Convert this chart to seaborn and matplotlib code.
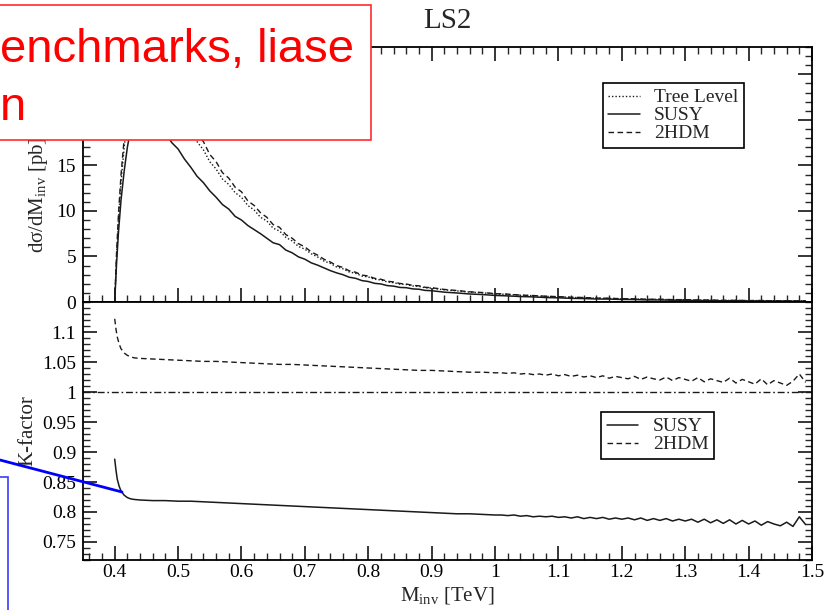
import seaborn as sns
import matplotlib
matplotlib.use("Agg")
import matplotlib.pyplot as plt
from matplotlib.patches import Rectangle
from matplotlib.lines import Line2D
from matplotlib.ticker import FixedLocator, MultipleLocator, FuncFormatter

# ---------------- data ----------------
# invariant mass grid for the differential cross section [TeV]
m_xsec = [0.400, 0.403, 0.406, 0.410, 0.415, 0.420, 0.425, 0.430,
          0.44, 0.45, 0.46, 0.47, 0.48, 0.49, 0.50, 0.51, 0.52, 0.53,
          0.54, 0.55, 0.56, 0.57, 0.58, 0.59, 0.60, 0.61, 0.62, 0.63,
          0.64, 0.65, 0.66, 0.67, 0.68, 0.69, 0.70, 0.71, 0.72, 0.73,
          0.74, 0.75, 0.76, 0.77, 0.78, 0.79, 0.80, 0.81, 0.82, 0.83,
          0.84, 0.85, 0.86, 0.87, 0.88, 0.89, 0.90,
          0.92, 0.94, 0.96, 0.98, 1.00, 1.02, 1.04, 1.06, 1.08, 1.10,
          1.12, 1.14, 1.16, 1.18, 1.20, 1.22, 1.24, 1.26, 1.28, 1.30,
          1.32, 1.34, 1.36, 1.38, 1.40, 1.42, 1.44, 1.46, 1.48, 1.49]

xsec_tree = [0.0, 5.0, 9.0, 13.2, 17.0, 20.1, 22.4, 24.0,
             25.6, 26.1, 25.7, 25.1, 23.9, 22.7, 21.3, 20.1, 18.9, 17.6,
             16.7, 15.4, 14.6, 13.5, 12.9, 12.0, 11.5, 10.6, 10.1, 9.3,
             8.9, 8.1, 7.8, 7.1, 6.7, 6.1, 5.8, 5.3, 4.95, 4.5,
             4.25, 3.85, 3.65, 3.3, 3.15, 2.85, 2.75, 2.5, 2.42, 2.2,
             2.12, 1.96, 1.92, 1.76, 1.72, 1.56, 1.52,
             1.33, 1.22, 1.08, 1.01, 0.89, 0.83, 0.74, 0.69, 0.61, 0.57,
             0.5, 0.48, 0.42, 0.4, 0.35, 0.34, 0.29, 0.29, 0.25, 0.25,
             0.21, 0.21, 0.17, 0.18, 0.15, 0.16, 0.13, 0.14, 0.11, 0.12]

xsec_susy = [0.0, 4.3, 7.7, 11.2, 14.4, 17.0, 18.9, 20.1,
             21.2, 21.4, 21.0, 20.2, 18.6, 17.5, 16.8, 15.7, 14.8, 13.8,
             13.1, 12.2, 11.5, 10.7, 10.2, 9.4, 9.0, 8.4, 7.95, 7.5,
             7.0, 6.5, 6.3, 5.7, 5.4, 4.95, 4.7, 4.3, 4.05, 3.75,
             3.45, 3.2, 3.0, 2.72, 2.6, 2.35, 2.25, 2.05, 1.98, 1.8,
             1.74, 1.6, 1.57, 1.44, 1.4, 1.27, 1.24,
             1.08, 0.99, 0.88, 0.82, 0.72, 0.67, 0.6, 0.56, 0.49, 0.46,
             0.4, 0.38, 0.33, 0.32, 0.28, 0.27, 0.23, 0.23, 0.2, 0.19,
             0.16, 0.16, 0.13, 0.14, 0.12, 0.12, 0.1, 0.11, 0.08, 0.09]

xsec_2hdm = [0.0, 5.5, 9.7, 14.0, 18.0, 21.3, 23.7, 25.4,
             27.0, 27.5, 27.1, 26.4, 25.3, 23.9, 22.5, 21.1, 20.0, 18.5,
             17.6, 16.2, 15.4, 14.2, 13.6, 12.6, 12.1, 11.1, 10.6, 9.8,
             9.3, 8.5, 8.2, 7.4, 7.0, 6.4, 6.05, 5.5, 5.15, 4.7,
             4.4, 4.0, 3.8, 3.42, 3.27, 2.96, 2.85, 2.6, 2.5, 2.28,
             2.2, 2.03, 1.98, 1.82, 1.78, 1.61, 1.57,
             1.38, 1.26, 1.12, 1.04, 0.92, 0.86, 0.76, 0.71, 0.63, 0.59,
             0.52, 0.49, 0.43, 0.41, 0.36, 0.35, 0.3, 0.3, 0.26, 0.26,
             0.22, 0.21, 0.18, 0.18, 0.16, 0.16, 0.13, 0.14, 0.12, 0.12]

# invariant mass grid for the K-factors [TeV]
m_kfac = [0.400, 0.402, 0.404, 0.407, 0.410, 0.415, 0.420, 0.425, 0.430,
          0.44, 0.46, 0.48, 0.50, 0.52, 0.54, 0.56, 0.58, 0.60, 0.62,
          0.64, 0.66, 0.68, 0.70, 0.72, 0.74, 0.76, 0.78, 0.80, 0.82,
          0.84, 0.86, 0.88, 0.90, 0.92, 0.94, 0.96, 0.98, 1.00,
          1.01, 1.02, 1.03, 1.04, 1.05, 1.06, 1.07, 1.08, 1.09, 1.10,
          1.11, 1.12, 1.13, 1.14, 1.15, 1.16, 1.17, 1.18, 1.19, 1.20,
          1.21, 1.22, 1.23, 1.24, 1.25, 1.26, 1.27, 1.28, 1.29, 1.30,
          1.31, 1.32, 1.33, 1.34, 1.35, 1.36, 1.37, 1.38, 1.39, 1.40,
          1.41, 1.42, 1.43, 1.44, 1.45, 1.46, 1.47, 1.48, 1.49]

kfac_susy = [0.888, 0.870, 0.855, 0.843, 0.835, 0.828, 0.824, 0.822, 0.821,
             0.820, 0.819, 0.819, 0.818, 0.818, 0.817, 0.816, 0.815, 0.814, 0.813,
             0.812, 0.811, 0.810, 0.809, 0.808, 0.807, 0.806, 0.805, 0.804, 0.803,
             0.802, 0.801, 0.800, 0.799, 0.798, 0.797, 0.797, 0.796, 0.795,
             0.795, 0.794, 0.795, 0.793, 0.794, 0.792, 0.793, 0.792, 0.793, 0.791,
             0.792, 0.790, 0.792, 0.789, 0.791, 0.789, 0.791, 0.788, 0.790, 0.788,
             0.790, 0.787, 0.790, 0.786, 0.789, 0.786, 0.789, 0.785, 0.788, 0.785,
             0.788, 0.783, 0.788, 0.782, 0.787, 0.781, 0.787, 0.780, 0.786, 0.780,
             0.785, 0.778, 0.784, 0.780, 0.777, 0.783, 0.776, 0.792, 0.779]

kfac_2hdm = [1.122, 1.105, 1.092, 1.080, 1.072, 1.065, 1.061, 1.059, 1.057,
             1.056, 1.055, 1.054, 1.053, 1.052, 1.051, 1.051, 1.050, 1.049, 1.048,
             1.047, 1.046, 1.046, 1.045, 1.044, 1.043, 1.042, 1.041, 1.040, 1.039,
             1.038, 1.037, 1.036, 1.036, 1.035, 1.034, 1.033, 1.033, 1.032,
             1.032, 1.031, 1.032, 1.030, 1.031, 1.029, 1.030, 1.028, 1.030, 1.027,
             1.029, 1.026, 1.028, 1.025, 1.027, 1.024, 1.027, 1.023, 1.026, 1.024,
             1.022, 1.026, 1.021, 1.025, 1.022, 1.020, 1.025, 1.019, 1.024, 1.021,
             1.018, 1.024, 1.017, 1.022, 1.019, 1.016, 1.023, 1.015, 1.021, 1.017,
             1.013, 1.022, 1.012, 1.019, 1.015, 1.011, 1.018, 1.030, 1.016]

kfac_tree = 1.0

x_ticks = [0.4, 0.5, 0.6, 0.7, 0.8, 0.9, 1.0, 1.1, 1.2, 1.3, 1.4, 1.5]
xsec_ticks = [0, 5, 10, 15, 20, 25]
xsec_labels = ["0", "5", "10", "15", "", ""]   # upper two sit under the note box
kfac_ticks = [0.75, 0.8, 0.85, 0.9, 0.95, 1.0, 1.05, 1.1]

# ---------------- style ----------------
sns.set_theme(style="ticks")
plt.rcParams["font.family"] = ["Liberation Serif", "DejaVu Serif"]
plt.rcParams["mathtext.fontset"] = "custom"
plt.rcParams["mathtext.rm"] = "Liberation Serif"
plt.rcParams["mathtext.it"] = "Liberation Serif:italic"
plt.rcParams["axes.linewidth"] = 1.2

INK = "#1a1a1a"
fmt = FuncFormatter(lambda v, p: f"{v:g}")

fig = plt.figure(figsize=(8.4, 6.1), dpi=100)
ax_top = fig.add_axes([83 / 840, 1 - 302 / 610, 729 / 840, 255 / 610])
ax_bot = fig.add_axes([83 / 840, 1 - 560 / 610, 729 / 840, 258 / 610])

# ---- differential cross section ----
sns.lineplot(x=m_xsec, y=xsec_tree, ax=ax_top, color=INK, lw=1.0,
             linestyle=(0, (1, 1.5)), label="Tree Level",
             estimator=None, sort=False)
sns.lineplot(x=m_xsec, y=xsec_susy, ax=ax_top, color=INK, lw=1.1,
             linestyle="-", label="SUSY", estimator=None, sort=False)
sns.lineplot(x=m_xsec, y=xsec_2hdm, ax=ax_top, color=INK, lw=1.0,
             linestyle=(0, (4, 2.5)), label="2HDM", estimator=None, sort=False)

# ---- K-factors ----
ax_bot.axhline(kfac_tree, color=INK, lw=1.0, linestyle=(0, (5, 2, 1.2, 2)))
sns.lineplot(x=m_kfac, y=kfac_susy, ax=ax_bot, color=INK, lw=1.1,
             linestyle="-", label="SUSY", estimator=None, sort=False)
sns.lineplot(x=m_kfac, y=kfac_2hdm, ax=ax_bot, color=INK, lw=1.0,
             linestyle=(0, (4, 2.5)), label="2HDM", estimator=None, sort=False)

for ax in (ax_top, ax_bot):
    ax.set_xlim(0.35, 1.5)
    ax.xaxis.set_major_locator(FixedLocator(x_ticks))
    ax.xaxis.set_minor_locator(MultipleLocator(0.02))
    ax.xaxis.set_major_formatter(fmt)
    ax.tick_params(which="major", direction="in", length=10, width=1.1,
                   labelsize=14, colors="black", pad=5)
    ax.tick_params(which="minor", direction="in", length=5, width=1.0)
    for s in ax.spines.values():
        s.set_linewidth(1.3)
        s.set_color("black")

ax_top.set_ylim(0, 28)
ax_top.set_yticks(xsec_ticks, xsec_labels)
ax_top.yaxis.set_minor_locator(MultipleLocator(1))
ax_top.tick_params(which="both", top=True, right=True, bottom=True,
                   labelbottom=False)

ax_bot.set_ylim(0.72, 1.15)
ax_bot.yaxis.set_major_locator(FixedLocator(kfac_ticks))
ax_bot.yaxis.set_minor_locator(MultipleLocator(0.01))
ax_bot.yaxis.set_major_formatter(fmt)
ax_bot.tick_params(which="both", top=False, right=True, bottom=True)
ax_bot.tick_params(axis="x", which="major", pad=3)

ax_top.set_ylabel("dσ/dM$_{\\mathrm{inv}}$ [pb]", fontsize=15)
ax_top.yaxis.set_label_coords(-0.045, 0.42)
ax_bot.set_ylabel("K-factor", fontsize=15)
ax_bot.yaxis.set_label_coords(-0.062, 0.5)
ax_bot.set_xlabel("")

fig.text(447 / 840, 1 - 601 / 610, "M$_{\\mathrm{inv}}$ [TeV]", fontsize=15,
         ha="center", va="baseline")
fig.text(447 / 840, 1 - 21 / 610, "LS2", fontsize=21, ha="center", va="center")

leg_kw = dict(frameon=True, fancybox=False, framealpha=1, edgecolor="black",
              fontsize=14, handlelength=1.6, handletextpad=0.75,
              labelspacing=0.02, borderpad=0.3, borderaxespad=0)
lg1 = ax_top.legend(loc="upper right", bbox_to_anchor=(0.907, 0.859), **leg_kw)
lg2 = ax_bot.legend(loc="upper right", bbox_to_anchor=(0.866, 0.574), **leg_kw)
for lg in (lg1, lg2):
    lg.get_frame().set_linewidth(1.2)

# ---- slide annotations on top of the chart ----
fig.add_artist(Rectangle((-0.05, 1 - 140 / 610), 371 / 840 + 0.05, 135 / 610,
                         transform=fig.transFigure, facecolor="white",
                         edgecolor="#ff2b2b", lw=1.2, zorder=5))
fig.text(0.0, 1 - 62 / 610, "enchmarks, liase", fontsize=34, color="#ff0000",
         family="Liberation Sans", ha="left", va="baseline", zorder=6)
fig.text(0.0, 1 - 120 / 610, "n", fontsize=34, color="#ff0000",
         family="Liberation Sans", ha="left", va="baseline", zorder=6)

fig.add_artist(Rectangle((-0.05, -0.05), 8 / 840 + 0.05, 133 / 610 + 0.05,
                         transform=fig.transFigure, facecolor="white",
                         edgecolor="#3a3aff", lw=1.2, zorder=5))
fig.add_artist(Line2D([0, 122 / 840], [1 - 460 / 610, 1 - 492 / 610],
                      transform=fig.transFigure, color="#0000ff", lw=2.0,
                      zorder=6))

fig.savefig("out.png", dpi=100)
